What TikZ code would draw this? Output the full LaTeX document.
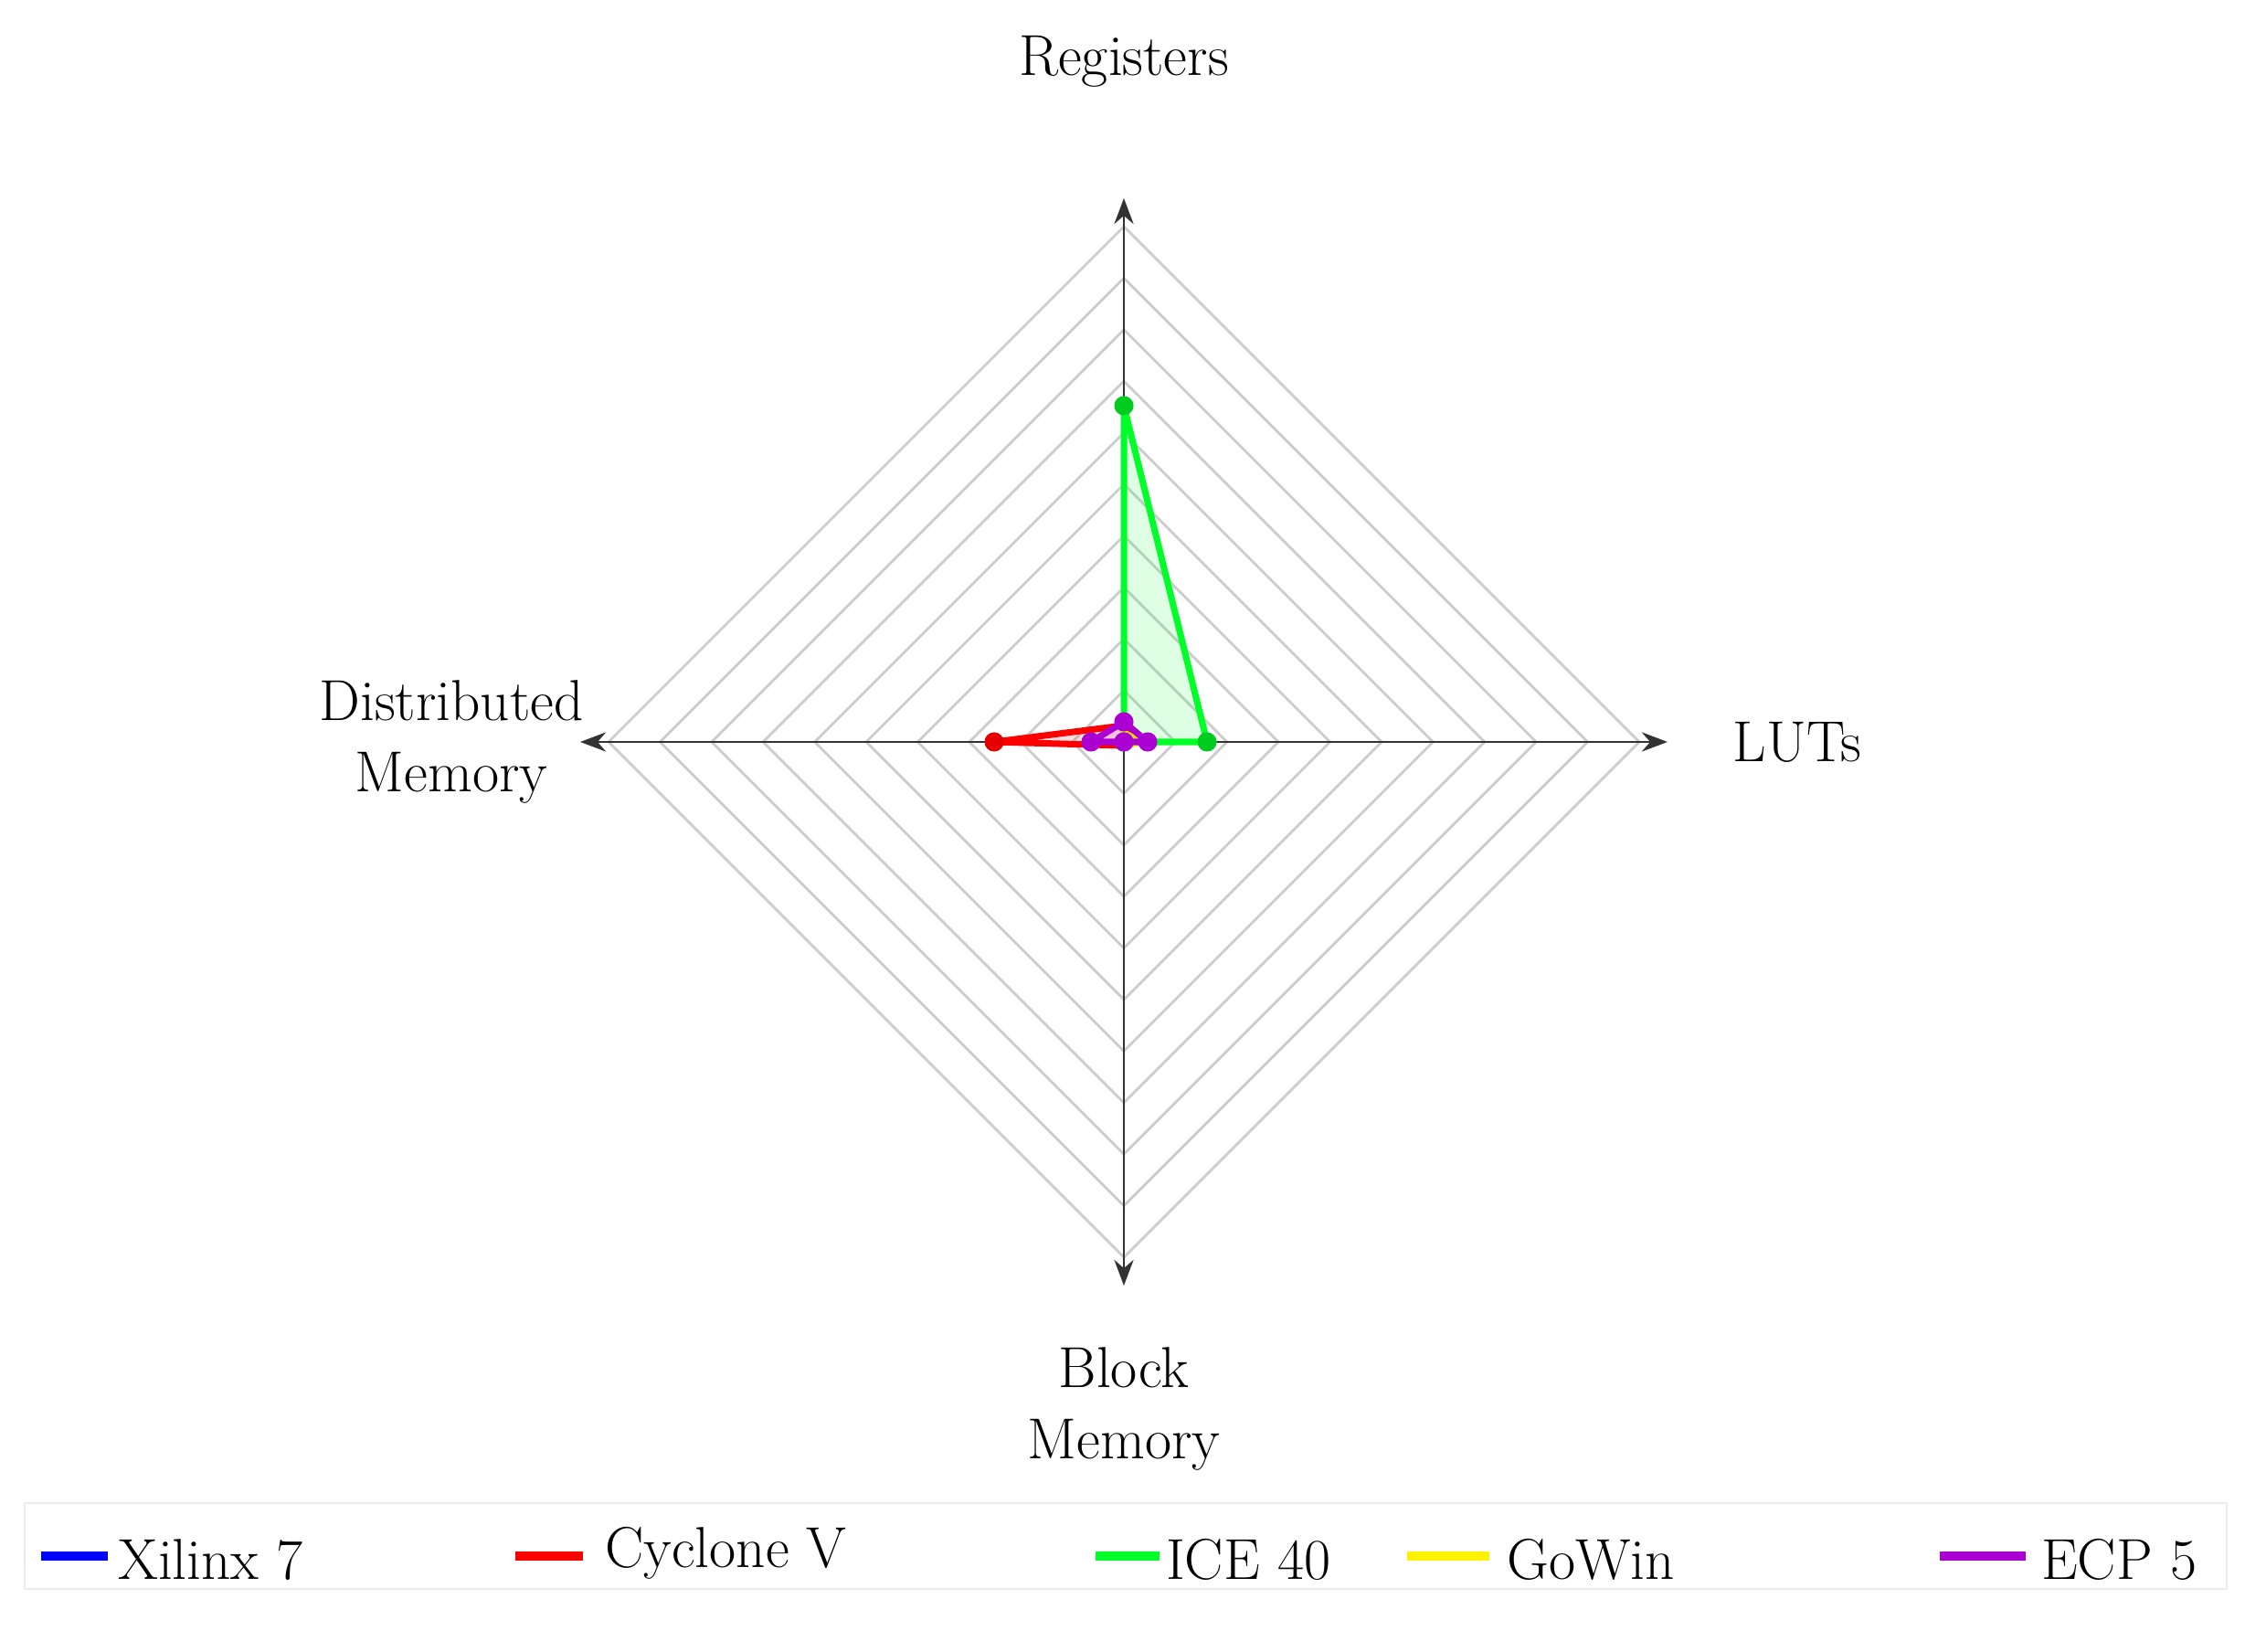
\documentclass[tikz,border=0pt]{standalone}
\usepackage{tikz}
\usetikzlibrary{positioning, arrows.meta, calc}
\definecolor{ice_green}{RGB}{0,255,40}
\definecolor{ecp_purple}{RGB}{170,0,210}
\tikzset{
  axis_line/.style={draw=black!80, thick, -{Stealth[length=8pt]}},
  grid_line/.style={draw=black!20, thick},
  label_text/.style={font=\fontsize{18}{22}\selectfont, align=center},
  series/.style={line width=2pt, line join=round},
  dot/.style={circle, fill=#1, inner sep=0pt, minimum size=6pt},
  key_line/.style={line width=3pt}
}
\begin{document}
\begin{tikzpicture}
  \useasboundingbox (0,0) rectangle (24.57,18.07);
  % --- centre of the radar ---
  \coordinate (C) at (12.30,9.95);
  % grid diamonds
  \foreach \r in {0.564,1.128,...,5.7}
    \draw [grid_line] ($(C)+(\r,0)$) -- ($(C)+(0,\r)$) -- ($(C)+(-\r,0)$) -- ($(C)+(0,-\r)$) -- cycle;
  % axes
  \coordinate (A_top) at ($(C)+(0,5.95)$);
  \coordinate (A_right) at ($(C)+(5.95,0)$);
  \coordinate (A_left) at ($(C)+(-5.95,0)$);
  \coordinate (A_bottom) at ($(C)+(0,-5.95)$);
  \foreach \a in {A_top, A_right, A_left, A_bottom}
    \draw [axis_line] (C) -- (\a);
  % axis labels
  \node [label_text] (registers) at (12.30,17.40) {Registers};
  \node [label_text] (luts) at (19.67,9.95) {LUTs};
  \node [label_text] (dist_mem) at (4.94,9.95) {Distributed\\Memory};
  \node [label_text] (block_mem) at (12.30,2.65) {Block\\Memory};
  % --- series ---
  % ICE 40
  \draw [series, draw=ice_green, fill=ice_green, fill opacity=0.13, draw opacity=1]
    ($(C)+(0,3.68)$) coordinate (g1) -- ($(C)+(0.91,0)$) coordinate (g2) -- (C) coordinate (g3) -- cycle;
  % Cyclone V
  \draw [series, draw=red, fill=red, fill opacity=0.13, draw opacity=1]
    ($(C)+(0,0.18)$) coordinate (r1) -- ($(C)+(0.18,0)$) coordinate (r2) -- ($(C)+(0,-0.04)$) coordinate (r3) -- ($(C)+(-1.42,0)$) coordinate (r4) -- cycle;
  % GoWin
  \draw [series, draw=yellow, fill=yellow, fill opacity=0.13, draw opacity=1]
    ($(C)+(0,0.10)$) coordinate (y1) -- ($(C)+(0.20,0)$) coordinate (y2) -- ($(C)+(0,-0.04)$) coordinate (y3) -- ($(C)+(-0.05,0)$) coordinate (y4) -- cycle;
  % ECP 5
  \draw [series, draw=ecp_purple, fill=ecp_purple, fill opacity=0.13, draw opacity=1]
    ($(C)+(0,0.22)$) coordinate (p1) -- ($(C)+(0.26,0)$) coordinate (p2) -- (C) coordinate (p3) -- ($(C)+(-0.36,0)$) coordinate (p4) -- cycle;
  % markers
  \foreach \p in {g1,g2,g3} \node [dot=ice_green!80!black] at (\p) {};
  \node [dot=red!90!black] at (r4) {};
  \foreach \p in {p1,p2,p3,p4} \node [dot=ecp_purple] at (\p) {};
  % --- legend ---
  \draw [black!8, thick] (0.27,0.68) rectangle (24.37,1.62);
  \draw [key_line, blue] (0.45,1.04) coordinate (k1a) -- (1.18,1.04) coordinate (k1b);
  \node [label_text, anchor=west, inner sep=1pt] (xilinx) at (1.25,1.0) {Xilinx 7};
  \draw [key_line, red] (5.64,1.04) coordinate (k2a) -- (6.38,1.04) coordinate (k2b);
  \node [label_text, anchor=west, inner sep=1pt] (cyclone) at (6.58,1.07) {Cyclone V};
  \draw [key_line, ice_green] (11.99,1.04) coordinate (k3a) -- (12.69,1.04) coordinate (k3b);
  \node [label_text, anchor=west, inner sep=1pt] (ice) at (12.72,1.0) {ICE 40};
  \draw [key_line, yellow] (15.40,1.04) coordinate (k4a) -- (16.30,1.04) coordinate (k4b);
  \node [label_text, anchor=west, inner sep=1pt] (gowin) at (16.45,1.0) {GoWin};
  \draw [key_line, ecp_purple] (21.23,1.04) coordinate (k5a) -- (22.17,1.04) coordinate (k5b);
  \node [label_text, anchor=west, inner sep=1pt] (ecp) at (22.30,1.0) {ECP 5};
\end{tikzpicture}
\end{document}
